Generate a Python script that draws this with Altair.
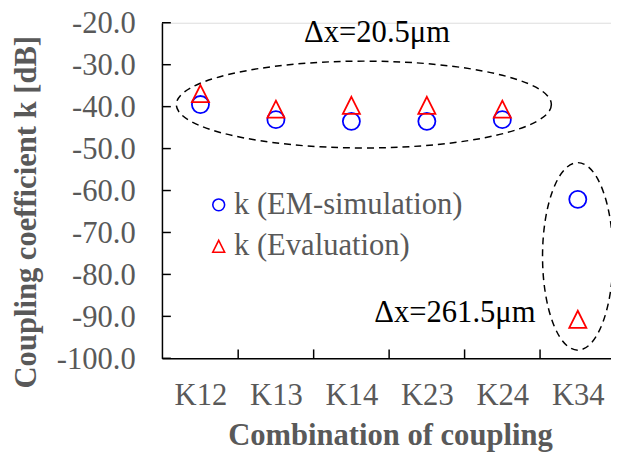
import altair as alt
import pandas as pd

categories = ["K12", "K13", "K14", "K23", "K24", "K34"]
k_em = [-39.5, -43.1, -43.5, -43.5, -43.1, -62.1]
k_eval = [-36.9, -40.6, -39.7, -39.7, -40.6, -90.7]
series_names = ["k (EM-simulation)", "k (Evaluation)"]
y_ticks = [-20, -30, -40, -50, -60, -70, -80, -90, -100]
x_bounds = [0.5, 1.5, 2.5, 3.5, 4.5]

# annotations (data coordinates)
ann_text = ["Δx=20.5μm", "Δx=261.5μm"]
ann_x = [2.34, 4.44]
ann_y = [-24.5, -91.3]
ell_x = [2.165, 5.0]
ell_y = [-39.5, -75.7]

FONT = "Liberation Serif"
GRAY = "#595959"

rows = []
for i, c in enumerate(categories):
    rows.append({"idx": i, "cat": c, "series": series_names[0], "k": k_em[i]})
for i, c in enumerate(categories):
    rows.append({"idx": i, "cat": c, "series": series_names[1], "k": k_eval[i]})
df = pd.DataFrame(rows)

TRI = "M0,-1L1,1L-1,1Z"


def ellipse_path(ax, ay):
    k = 0.5523
    return (f"M{ax},0 C{ax},{k*ay} {k*ax},{ay} 0,{ay} "
            f"C{-k*ax},{ay} {-ax},{k*ay} {-ax},0 "
            f"C{-ax},{-k*ay} {-k*ax},{-ay} 0,{-ay} "
            f"C{k*ax},{-ay} {ax},{-k*ay} {ax},0 Z")


xscale = alt.Scale(domain=[-0.51, 5.44], nice=False, zero=False)
yscale = alt.Scale(domain=[-100, -20], nice=False, zero=False)

label_js = "[" + ",".join(f"'{c}'" for c in categories) + "][datum.value]"

xaxis = alt.Axis(values=list(range(len(categories))), labelExpr=label_js,
                 labelFont=FONT, labelFontSize=31, labelColor=GRAY,
                 labelBaseline="alphabetic", labelPadding=47, labelFlush=False,
                 labelOverlap=False, ticks=False, tickSize=0, grid=False,
                 domainColor="black", domainWidth=1.5,
                 title="Combination of coupling", titleFont=FONT, titleFontSize=31,
                 titleFontWeight="bold", titleColor=GRAY, titleBaseline="alphabetic",
                 titleY=87, titleX=231, titleAlign="center")
yaxis = alt.Axis(values=y_ticks, labelExpr="datum.value + '.0'",
                 labelFont=FONT, labelFontSize=31, labelColor=GRAY,
                 labelAlign="right", labelBaseline="alphabetic", labelOffset=10,
                 labelPadding=27, labelFlush=False, labelOverlap=False,
                 ticks=False, tickSize=0, grid=False,
                 domainColor="black", domainWidth=1.5,
                 title="Coupling coefficient k [dB]", titleFont=FONT, titleFontSize=31,
                 titleFontWeight="bold", titleColor=GRAY, titleBaseline="alphabetic",
                 titleAngle=270, titleX=-128, titleY=191.5, titleAlign="center")

points = alt.Chart(df).mark_point(filled=False, size=300, strokeWidth=1.8, opacity=1).encode(
    x=alt.X("idx:Q", scale=xscale, axis=xaxis),
    y=alt.Y("k:Q", scale=yscale, axis=yaxis),
    color=alt.Color("series:N",
                    scale=alt.Scale(domain=series_names, range=["#0000FF", "#FF0000"]),
                    legend=alt.Legend(title=None, orient="none", legendX=42, legendY=169,
                                      labelFont=FONT, labelFontSize=31, labelColor=GRAY,
                                      labelBaseline="middle", labelOffset=0,
                                      symbolSize=144, symbolStrokeWidth=1.6,
                                      symbolFillColor="transparent",
                                      rowPadding=10, padding=0, labelLimit=400)),
    shape=alt.Shape("series:N",
                    scale=alt.Scale(domain=series_names, range=["circle", TRI]),
                    legend=None),
)

ytick_df = pd.DataFrame({"v": y_ticks})
yticks = alt.Chart(ytick_df).mark_rule(color="black", strokeWidth=1.5).encode(
    y=alt.Y("v:Q", scale=yscale), x=alt.value(0), x2=alt.value(9))
xtick_df = pd.DataFrame({"v": x_bounds})
xticks = alt.Chart(xtick_df).mark_rule(color="black", strokeWidth=1.5).encode(
    x=alt.X("v:Q", scale=xscale), y=alt.value(340), y2=alt.value(331))

ell1 = alt.Chart(pd.DataFrame({"x": [ell_x[0]], "y": [ell_y[0]]})).mark_point(
    shape=ellipse_path(1, 0.2316), size=144400, filled=False, color="black",
    strokeWidth=1.5, strokeDash=[7, 5], opacity=1).encode(
    x=alt.X("x:Q", scale=xscale), y=alt.Y("y:Q", scale=yscale))
ell2 = alt.Chart(pd.DataFrame({"x": [ell_x[1]], "y": [ell_y[1]]})).mark_point(
    shape=ellipse_path(0.376, 1), size=36100, filled=False, color="black",
    strokeWidth=1.5, strokeDash=[7, 5], opacity=1).encode(
    x=alt.X("x:Q", scale=xscale), y=alt.Y("y:Q", scale=yscale))

ann_df = pd.DataFrame({"t": ann_text, "x": ann_x, "y": ann_y})
t1 = alt.Chart(ann_df.iloc[[0]]).mark_text(font=FONT, fontSize=31, color="black",
                                           align="center", baseline="alphabetic").encode(
    x=alt.X("x:Q", scale=xscale), y=alt.Y("y:Q", scale=yscale), text="t:N")
t2 = alt.Chart(ann_df.iloc[[1]]).mark_text(font=FONT, fontSize=31, color="black",
                                           align="right", baseline="alphabetic").encode(
    x=alt.X("x:Q", scale=xscale), y=alt.Y("y:Q", scale=yscale), text="t:N")

chart = alt.layer(yticks, xticks, ell1, ell2, t1, t2, points).properties(
    width=455, height=340,
    autosize=alt.AutoSizeParams(type="none"),
    padding={"left": 156, "top": 12, "right": 0, "bottom": 93},
).configure_view(stroke=None).configure(background="white")

chart.save("out.html", embed_options={"renderer": "svg", "actions": False})
